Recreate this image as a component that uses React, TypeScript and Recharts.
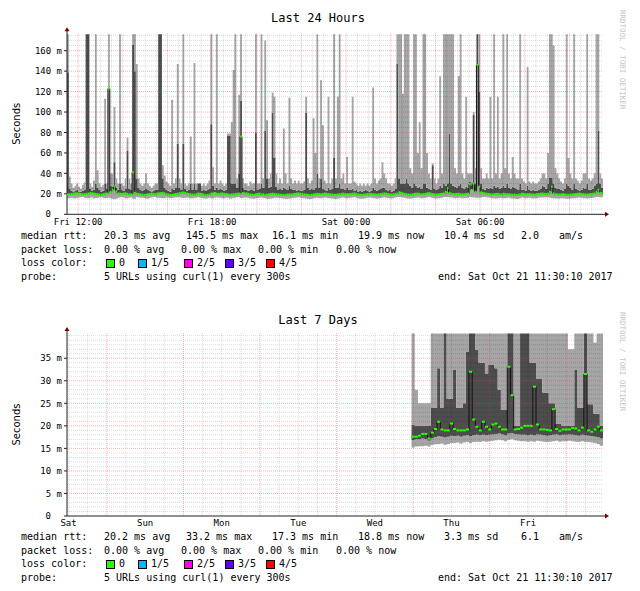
import { ComposedChart, Area, Line, XAxis, YAxis, ReferenceLine } from 'recharts'

// Last 24 Hours: 5 minute buckets, bucket 0 = Fri 11:30, one row = 2 hours
const dayMin = [
  15.8, 16, 16.2, 15.7, 15.5, 16.1, 16.4, 16.6, 16.8, 16.3, 15.9, 15.6, 16.3, 16.5, 15.4, 15.9, 16.1, 16.4, 16.6, 16.2, 15.7, 16, 16.2, 15.6,
  15.1, 14.6, 15.2, 16, 16.4, 16.9, 16.4, 15.8, 15.8, 16.2, 16.5, 15.5, 15.2, 16.8, 16.4, 16.3, 16.1, 15.9, 15.5, 15.2, 15.9, 16.5, 16.7, 16.9,
  16.1, 16.2, 16, 15.7, 16, 16.4, 16.2, 15.8, 15.9, 16.2, 16.4, 16.7, 16.7, 16.1, 15.9, 16.3, 16.4, 16.2, 15.6, 15.8, 16.1, 16.3, 16.6, 16.4,
  15.9, 15.6, 15.3, 15.8, 16.2, 15.7, 15.7, 16.3, 16.5, 16.1, 16.1, 15.8, 15.8, 16.3, 16.3, 15.4, 15.4, 16.1, 16.1, 16.6, 16.6, 15.9, 15.9, 16.4,
  16.4, 16.1, 15.8, 15.5, 15.2, 15.6, 16, 16.3, 16.5, 16, 15.6, 15.3, 15.1, 15.5, 15.8, 16.1, 16.3, 16.1, 15.9, 15.6, 15.4, 15.2, 15.1, 15.4,
  15.6, 15.9, 16.2, 16.5, 16.7, 16.3, 16, 15.8, 15.5, 15.1, 14.8, 15.2, 15.6, 16, 16.3, 16, 15.7, 16.1, 16.5, 16.2, 16, 15.7, 15.4, 15.2,
  15, 15.4, 15.8, 16.1, 16.4, 16, 15.7, 15.9, 16.1, 16.4, 16.6, 16.2, 15.6, 15.3, 15.1, 15.5, 15.8, 16.1, 16.4, 16.2, 15.9, 15.6, 15.3, 15.6,
  16, 16.3, 16.7, 16.3, 15.9, 15.6, 15.4, 15.9, 16.5, 16.7, 16.8, 16.6, 16.4, 16.1, 15.8, 15.5, 15.3, 15.7, 16, 16.3, 16.5, 16.1, 15.7, 15.9,
  16.1, 16.5, 16.8, 16.4, 16, 15.7, 15.5, 15.7, 15.9, 16.2, 16.6, 16.8, 16.9, 16.7, 16.4, 16.1, 15.8, 16, 16.3, 16.1, 15.6, 15.9, 16.1, 16.3,
  16.9, 16.7, 16.5, 16.3, 16.1, 16.2, 16.4, 16.6, 16.9, 16.7, 16.4, 16.1, 15.8, 15.6, 15.5, 15.8, 16, 16.2, 15.7, 15.6, 16.3, 16.1, 15.6, 15.4,
  15.4, 15, 15.3, 15.7, 16.4, 16.1, 15.8, 15.9, 16.1, 15.7, 15.5, 15.6, 15.8, 16.1, 16.4, 16.5, 16.5, 16.6, 16.6, 16.2, 15.9, 15.6, 15.4, 15.6,
  15.4, 15.6, 15.8, 15.5, 15.3, 15.1, 15.4, 15.6, 15.8, 16, 16.3, 16.5, 16.1, 15.8, 15.6, 15.4, 15.7, 15.9, 16.2, 16.5, 16.8, 16.8, 16.7, 16.7,
]
const dayMed = [
  19.5, 19.6, 19.8, 20.2, 20.6, 20.4, 20.2, 19.8, 19.4, 19.7, 19.9, 20.3, 20.8, 20.5, 20.3, 19.8, 19.6, 19.3, 19.2, 19.7, 20.1, 20.4, 123, 22,
  24, 27, 22.5, 20.4, 20.1, 19.8, 20.3, 20.6, 19.9, 19.3, 19.6, 41, 21, 20.2, 19.8, 19.6, 19.2, 18.8, 19.1, 19.5, 19.9, 20.3, 19.9, 19.7,
  20.3, 20.5, 20.7, 20.9, 20.4, 19.6, 19.4, 19, 18.9, 19.3, 19.8, 20.2, 20.6, 21, 21.3, 20.8, 20.2, 19.9, 19.5, 19.2, 19.1, 19.7, 20.4, 20.1,
  19.7, 19.2, 18.6, 18.9, 19.3, 20.2, 20.5, 20.8, 20.1, 19.9, 20.2, 20.4, 20, 19.7, 19.4, 18.9, 19.3, 19.6, 19.8, 20.1, 20.3, 76, 20.8, 20.5,
  20.5, 20, 19.4, 19.1, 18.8, 19.6, 19.9, 20.3, 19.2, 19.5, 18.7, 19.1, 19.4, 19.8, 20.2, 19.9, 19.6, 19.4, 19.1, 18.8, 18.7, 19, 19.3, 19.5,
  19.3, 19.6, 19.9, 20.3, 20.5, 20.1, 19.7, 19.4, 19.2, 18.9, 18.6, 19, 19.4, 19.7, 20.1, 19.8, 19.5, 19.9, 20.3, 20.1, 19.8, 19.5, 19.2, 19,
  18.9, 19.3, 19.6, 19.9, 20.2, 19.8, 19.5, 19.7, 19.9, 20.2, 20.4, 20, 19.3, 19.1, 18.8, 19.2, 19.5, 19.8, 20.1, 19.9, 19.6, 19.3, 19.1, 19.5,
  19.8, 20.1, 20.5, 20.2, 19.7, 19.4, 19.2, 19.6, 20, 20.3, 21.6, 21, 20.4, 20, 19.6, 19.3, 19.1, 19.4, 19.8, 20.1, 20.3, 19.9, 19.5, 19.7,
  19.9, 20.4, 20.6, 20.2, 19.8, 19.5, 19.3, 19.5, 19.7, 20, 20.4, 22, 25.4, 21, 20.2, 19.8, 19.6, 19.9, 20.1, 19.7, 19.4, 19.6, 19.9, 20.2,
  29.5, 24, 30, 22, 146, 27, 21.5, 20.8, 20.4, 20.2, 19.9, 19.6, 19.3, 19.5, 19.8, 20, 19.5, 19.3, 20.1, 19.8, 19.4, 19.6, 19.2, 19,
  19.2, 18.8, 19.1, 19.5, 20.2, 19.9, 19.6, 19.8, 19.9, 19.5, 19.3, 19.1, 19.6, 19.8, 20.2, 20.4, 20, 19.7, 20.2, 22, 27, 20.4, 19.7, 19.5,
  19.2, 19.4, 19.6, 19.3, 19.1, 18.9, 19.2, 19.4, 19.6, 19.8, 20.1, 20.3, 19.9, 19.6, 19.4, 19.2, 19.5, 19.7, 20, 20.5, 22, 24, 21, 20.5,
]
const dayDark = [
  139, 25, 23, 22, 23, 24, 22, 22, 23, 24, 176, 176, 25, 23, 24, 30, 26, 24, 22, 23, 30, 25, 123, 28,
  27, 51, 26, 24, 30, 24, 23, 25, 62, 25, 24, 166, 140, 35, 26, 24, 23, 24, 25, 24, 23, 22, 23, 24,
  24, 176, 176, 35, 26, 24, 23, 22, 25, 24, 26, 69, 26, 24, 69, 25, 23, 24, 30, 24, 30, 24, 30, 30,
  23, 24, 23, 24, 25, 88, 28, 24, 26, 24, 25, 24, 23, 24, 77, 77, 30, 30, 30, 26, 40, 111, 26, 24,
  24, 23, 24, 24, 23, 80, 24, 25, 30, 26, 82, 35, 26, 27, 99, 55, 27, 24, 25, 24, 26, 25, 24, 28,
  25, 24, 24, 23, 24, 23, 23, 24, 99, 26, 24, 25, 24, 26, 40, 26, 35, 25, 24, 23, 26, 24, 25, 55,
  26, 26, 30, 25, 25, 24, 26, 24, 24, 25, 23, 24, 22, 23, 22, 23, 24, 23, 22, 23, 26, 24, 23, 24,
  25, 26, 26, 24, 23, 24, 22, 23, 25, 147, 35, 30, 30, 30, 35, 30, 28, 26, 30, 28, 26, 27, 25, 30,
  30, 26, 25, 24, 48, 25, 24, 25, 28, 26, 30, 28, 30, 79, 30, 28, 27, 26, 28, 30, 26, 25, 27, 26,
  32, 28, 97, 30, 176, 120, 30, 25, 24, 26, 25, 26, 25, 28, 26, 27, 25, 26, 28, 26, 30, 26, 25, 27,
  26, 25, 24, 30, 24, 24, 23, 28, 24, 23, 24, 23, 23, 24, 25, 28, 27, 25, 30, 36, 36, 30, 26, 25,
  25, 24, 23, 25, 30, 28, 26, 24, 30, 25, 24, 23, 24, 26, 25, 30, 24, 24, 25, 28, 30, 82, 30, 26,
]
const dayMax = [
  176, 37, 30, 26, 28, 30, 27, 25, 29, 31, 176, 176, 30, 27, 33, 176, 43, 30, 27, 29, 113, 30, 176, 40,
  40, 105, 35, 30, 176, 30, 28, 35, 75, 35, 30, 176, 176, 147, 35, 30, 28, 30, 40, 30, 28, 26, 28, 30,
  30, 176, 176, 48, 38, 32, 30, 28, 112, 30, 35, 147, 35, 30, 176, 30, 28, 30, 76, 30, 148, 30, 30, 30,
  28, 30, 28, 30, 33, 176, 46, 30, 176, 30, 33, 30, 28, 30, 79, 79, 90, 141, 176, 35, 117, 176, 35, 30,
  30, 28, 32, 30, 30, 176, 30, 30, 176, 35, 170, 92, 35, 40, 119, 115, 40, 30, 35, 30, 84, 40, 30, 114,
  35, 30, 33, 30, 33, 30, 30, 32, 115, 35, 30, 33, 94, 60, 176, 35, 131, 87, 33, 30, 115, 30, 35, 176,
  35, 115, 176, 35, 40, 30, 56, 30, 30, 115, 32, 30, 28, 30, 28, 30, 28, 30, 28, 30, 124, 35, 30, 33,
  35, 51, 40, 35, 30, 30, 28, 30, 35, 176, 176, 176, 118, 176, 176, 176, 45, 40, 176, 176, 60, 90, 45, 176,
  176, 60, 40, 35, 50, 35, 30, 35, 135, 40, 176, 176, 176, 176, 176, 176, 45, 40, 135, 176, 40, 35, 115, 40,
  40, 40, 100, 45, 176, 176, 45, 35, 35, 40, 35, 115, 35, 176, 40, 115, 35, 40, 176, 45, 176, 40, 35, 56,
  40, 35, 35, 176, 35, 32, 30, 144, 32, 30, 32, 30, 30, 32, 35, 40, 40, 35, 60, 176, 176, 165, 45, 40,
  35, 32, 30, 35, 176, 55, 40, 35, 176, 35, 33, 30, 33, 40, 40, 176, 35, 33, 35, 40, 176, 176, 40, 35,
]
const dayTickPos = [6, 78, 150, 222]
const dayTickLabels = ['Fri 12:00', 'Fri 18:00', 'Sat 00:00', 'Sat 06:00']
const dayYTicks = [0, 20, 40, 60, 80, 100, 120, 140, 160]

// Last 7 Days: hourly buckets, bucket 0 = Sat 11:30, data begins at bucket 108
const weekStart = 108
const weekMin = [
  15.2, 15.4, 15.5, 15.5, 15.6, 15.4, 15.8, 15.9, 16, 16.1, 15.8, 16,
  16.2, 16.2, 16.3, 16.1, 16.3, 16.4, 16.2, 16.4, 16.5, 16.4, 16.6, 16.5,
  16.6, 16.7, 16.8, 16.9, 16.8, 16.6, 16.9, 17, 16.8, 16.7, 16.6, 16.6,
  16.5, 16.6, 16.5, 16.7, 16.6, 16.5, 16.4, 16.5, 16.6, 16.7, 16.5, 16.6,
  16.6, 16.7, 16.6, 16.5, 16.4, 16.6, 16.5, 16.4, 16.3, 16.2, 16, 15.6,
]
const weekDarkLo = [
  16.8, 17, 17, 17.2, 17.1, 16.7, 17.3, 17.5, 17.7, 17.6, 17.4, 17.6,
  17.8, 17.7, 17.8, 17.6, 17.8, 17.9, 17.7, 17.9, 18, 17.9, 18, 17.9,
  18, 18.1, 18.2, 18.3, 18.1, 17.9, 18.3, 18.4, 18.2, 18.1, 18, 18,
  17.9, 18, 17.9, 18.1, 18, 17.9, 17.8, 17.9, 18, 18.1, 17.9, 18,
  18, 18.1, 18, 17.9, 17.8, 18, 17.9, 17.8, 17.7, 17.6, 17.4, 17.2,
]
const weekMed = [
  17.6, 17.6, 17.8, 18.2, 18.2, 17.2, 18.5, 19.3, 20.9, 19.2, 19, 19,
  20.5, 19.3, 19, 19, 19, 19.2, 32, 21.4, 19.8, 19, 20.9, 19.8,
  19.2, 20.3, 20.5, 19.8, 19.2, 19.2, 33.1, 26.8, 19.2, 19.3, 19.6, 20,
  20, 20, 28.7, 20.3, 19.2, 19.2, 19.1, 19, 23.7, 19.3, 18.9, 19.2,
  19.2, 19.2, 19.5, 19.4, 19, 19.6, 31.5, 19, 18.7, 19.2, 19.8, 19,
]
const weekDark = [
  20.2, 20, 20, 20, 20, 20, 24, 24, 32.8, 24, 40.5, 26,
  26, 32.4, 24, 24, 25, 36.4, 40.5, 40.5, 36.9, 34, 34, 31.6,
  33.5, 33.5, 32.8, 28, 23.5, 23.5, 40.5, 40.5, 20, 20, 40.5, 40.5,
  40.5, 34, 34, 30.5, 30.5, 27.4, 27.4, 25, 25, 20.5, 20.5, 20,
  20, 20, 20, 32.4, 24, 24, 40.5, 24.8, 24.8, 22.7, 22.7, 20,
]
const weekMax = [
  40.5, 28, 25, 25, 25, 25, 40.5, 40.5, 40.5, 40.5, 40.5, 40.5,
  40.5, 40.5, 40.5, 40.5, 40.5, 40.5, 40.5, 40.5, 40.5, 40.5, 40.5, 40.5,
  40.5, 40.5, 40.5, 40.5, 40.5, 40.5, 40.5, 40.5, 40.5, 40.5, 40.5, 39.8,
  40.5, 40.5, 40.5, 40.5, 40.5, 40.5, 40.5, 40.5, 40.5, 40.5, 40.5, 40.5,
  40.5, 37, 37, 40.5, 40.5, 40.5, 40.5, 40.5, 40.5, 38.5, 40.5, 40.5,
]
const weekTickPos = [0.5, 24.5, 48.5, 72.5, 96.5, 120.5, 144.5]
const weekTickLabels = ['Sat', 'Sun', 'Mon', 'Tue', 'Wed', 'Thu', 'Fri']
const weekYTicks = [0, 5, 10, 15, 20, 25, 30, 35]

const dayStats = ['median rtt:', '20.3 ms avg', '145.5 ms max', '16.1 ms min', '19.9 ms now', '10.4 ms sd', '2.0', 'am/s']
const weekStats = ['median rtt:', '20.2 ms avg', '33.2 ms max', '17.3 ms min', '18.8 ms now', '3.3 ms sd', '6.1', 'am/s']
const lossStats = ['packet loss:', '0.00 % avg', '0.00 % max', '0.00 % min', '0.00 % now']
const lossLabels = ['0', '1/5', '2/5', '3/5', '4/5']
const lossColors = ['#26ff00', '#00b8ff', '#ff00ea', '#5e00ff', '#ff0000']
const probeText = '5 URLs using curl(1) every 300s'
const endText = 'end: Sat Oct 21 11:30:10 2017'

const MONO = '"DejaVu Sans Mono", monospace'
const LIGHT = '#a5a5a5'
const DARK = '#4d4d4d'

function buildRows(start: number, min: number[], lo: number[], med: number[], hi: number[], max: number[]) {
  const rows = min.map((m, k) => ({
    x: start + k,
    base: m,
    light1: Math.max(0, lo[k] - m),
    dark: Math.max(0, hi[k] - lo[k]),
    light2: Math.max(0, max[k] - hi[k]),
    med: med[k],
  }))
  const last = rows[rows.length - 1]
  rows.push({ ...last, x: last.x + 1 })
  return rows
}

const dayRows = buildRows(0, dayMin, dayMed, dayMed, dayDark, dayMax)
const weekRows = buildRows(weekStart, weekMin, weekDarkLo, weekMed, weekDark, weekMax)

function range(from: number, to: number, step: number) {
  const out: number[] = []
  for (let v = from; v <= to + 1e-9; v += step) out.push(Math.round(v * 100) / 100)
  return out
}

function YTick(props: any) {
  const { x, y, payload } = props
  const v = payload.value
  return (
    <text x={v === 0 ? x - 11 : x} y={y} dy="0.355em" textAnchor="end" fontSize={9} fontFamily={MONO} fill="#000">
      {v === 0 ? '0' : `${v} m`}
    </text>
  )
}

type PanelProps = {
  rows: any[]
  xMax: number
  yMax: number
  yTicks: number[]
  xTicks: number[]
  xLabels: string[]
  vMinor: number[]
  vMajor: number[]
  hMinor: number[]
  hMajor: number[]
  height: number
  top: number
  bottom: number
  stepPx: number
}

function SmokePanel(p: PanelProps) {
  const tick = { fontSize: 9, fontFamily: MONO, fill: '#000' }
  const lastIdx = p.rows.length - 1
  const medDot = (d: any) =>
    d.index === lastIdx ? (
      <g key={'d' + d.index} />
    ) : (
      <rect key={'d' + d.index} x={d.cx} y={d.cy - 1} width={p.stepPx} height={2} fill="#26ff00" />
    )
  return (
    <ComposedChart width={640} height={p.height} data={p.rows} margin={{ top: p.top, right: 37, left: 7, bottom: p.bottom }}>
      {p.hMinor.filter(v => !p.hMajor.includes(v)).map(v => (
        <ReferenceLine key={'hm' + v} y={v} stroke="rgba(0,0,0,0.14)" strokeDasharray="1 1" />
      ))}
      {p.vMinor.filter(v => !p.vMajor.includes(v)).map(v => (
        <ReferenceLine key={'vm' + v} x={v} stroke="rgba(0,0,0,0.14)" strokeDasharray="1 1" />
      ))}
      {p.hMajor.map(v => (
        <ReferenceLine key={'hM' + v} y={v} stroke="rgba(240,60,60,0.4)" strokeDasharray="1 1" />
      ))}
      {p.vMajor.map(v => (
        <ReferenceLine key={'vM' + v} x={v} stroke="rgba(240,60,60,0.4)" strokeDasharray="1 1" />
      ))}
      <XAxis
        type="number"
        dataKey="x"
        domain={[0, p.xMax]}
        ticks={p.xTicks}
        interval={0}
        tickFormatter={(v: number) => p.xLabels[p.xTicks.indexOf(v)]}
        tick={tick}
        tickLine={false}
        tickSize={3}
        tickMargin={1}
        axisLine={{ stroke: '#222' }}
        height={20}
        allowDataOverflow
      />
      <YAxis
        type="number"
        domain={[0, p.yMax]}
        ticks={p.yTicks}
        interval={0}
        tick={<YTick />}
        tickSize={3}
        tickMargin={2}
        tickLine={{ stroke: '#222' }}
        axisLine={{ stroke: '#222' }}
        width={60}
        allowDataOverflow
      />
      <Area dataKey="base" stackId="s" type="stepAfter" stroke="none" fill="none" isAnimationActive={false} activeDot={false} />
      <Area dataKey="light1" stackId="s" type="stepAfter" stroke="none" fill={LIGHT} fillOpacity={1} isAnimationActive={false} activeDot={false} />
      <Area dataKey="dark" stackId="s" type="stepAfter" stroke="none" fill={DARK} fillOpacity={1} isAnimationActive={false} activeDot={false} />
      <Area dataKey="light2" stackId="s" type="stepAfter" stroke="none" fill={LIGHT} fillOpacity={1} isAnimationActive={false} activeDot={false} />
      <Line dataKey="med" type="stepAfter" stroke="#111" strokeWidth={1} dot={medDot} activeDot={false} isAnimationActive={false} />
    </ComposedChart>
  )
}

function Txt({ x, y, children }: { x: number; y: number; children: any }) {
  return (
    <div style={{ position: 'absolute', left: x, top: y, fontFamily: MONO, fontSize: 10, lineHeight: '12px', whiteSpace: 'pre', color: '#000' }}>
      {children}
    </div>
  )
}

const statX = [21, 104, 186, 272, 358, 444, 521, 559]
const lossX = [21, 104, 181, 258, 336]
const boxX = [106, 138, 184, 225, 266]

function LegendBlock({ top, stats }: { top: number; stats: string[] }) {
  return (
    <>
      {stats.map((s, i) => <Txt key={'s' + i} x={statX[i]} y={top}>{s}</Txt>)}
      {lossStats.map((s, i) => <Txt key={'l' + i} x={lossX[i]} y={top + 13.5}>{s}</Txt>)}
      <Txt x={21} y={top + 27}>loss color:</Txt>
      {lossLabels.map((s, i) => (
        <div key={'c' + i}>
          <div style={{ position: 'absolute', left: boxX[i], top: top + 29, width: 7, height: 7, background: lossColors[i], border: '1px solid #000' }} />
          <Txt x={boxX[i] + 13} y={top + 27}>{s}</Txt>
        </div>
      ))}
      <Txt x={21} y={top + 41}>probe:</Txt>
      <Txt x={104} y={top + 41}>{probeText}</Txt>
      <Txt x={438} y={top + 41}>{endText}</Txt>
    </>
  )
}

function Decor({ title, plotTop, plotBottom, panelTop }: { title: string; plotTop: number; plotBottom: number; panelTop: number }) {
  const mid = (plotTop + plotBottom) / 2
  return (
    <g>
      <text x={318} y={panelTop + 22} textAnchor="middle" fontFamily={MONO} fontSize={12} fill="#000">{title}</text>
      <text transform={`translate(20, ${mid}) rotate(-90)`} textAnchor="middle" fontFamily='"DejaVu Sans", sans-serif' fontSize={10} fill="#000">Seconds</text>
      <text transform={`translate(620, ${panelTop + 10}) rotate(90)`} fontFamily={MONO} fontSize={7.5} fill="#c4c4c4">RRDTOOL / TOBI OETIKER</text>
      <line x1={603} x2={606} y1={plotBottom} y2={plotBottom} stroke="#222" />
      <line x1={67} x2={67} y1={plotTop - 3} y2={plotTop} stroke="#222" />
      <polygon points={`64.5,${plotTop - 2} 69.5,${plotTop - 2} 67,${plotTop - 6}`} fill="#7a0000" />
      <polygon points={`605,${plotBottom - 2.5} 605,${plotBottom + 2.5} 609,${plotBottom}`} fill="#7a0000" />
    </g>
  )
}

export default function App() {
  return (
    <div style={{ position: 'absolute', left: 0, top: 0, width: 640, height: 591, background: '#fff', overflow: 'hidden' }}>
      <div style={{ position: 'absolute', left: 0, top: 0 }}>
        <SmokePanel
          rows={dayRows}
          xMax={288}
          yMax={177}
          yTicks={dayYTicks}
          xTicks={dayTickPos}
          xLabels={dayTickLabels}
          vMinor={range(6, 282, 6)}
          vMajor={range(6, 270, 24)}
          hMinor={range(5, 175, 5)}
          hMajor={range(20, 160, 20)}
          height={300}
          top={33.3}
          bottom={65.7}
          stepPx={536 / 288}
        />
      </div>
      <div style={{ position: 'absolute', left: 0, top: 300 }}>
        <SmokePanel
          rows={weekRows}
          xMax={168}
          yMax={40.6}
          yTicks={weekYTicks}
          xTicks={weekTickPos}
          xLabels={weekTickLabels}
          vMinor={range(0.5, 162.5, 6)}
          vMajor={range(12.5, 156.5, 24)}
          hMinor={range(1, 40, 1)}
          hMajor={range(5, 35, 5)}
          height={291}
          top={33}
          bottom={55}
          stepPx={536 / 168}
        />
      </div>
      <svg width={640} height={591} style={{ position: 'absolute', left: 0, top: 0, pointerEvents: 'none' }}>
        <Decor title="Last 24 Hours" plotTop={33.3} plotBottom={214.3} panelTop={0} />
        <Decor title="Last 7 Days" plotTop={333} plotBottom={516} panelTop={302} />
      </svg>
      <LegendBlock top={230} stats={dayStats} />
      <LegendBlock top={531} stats={weekStats} />
    </div>
  )
}
